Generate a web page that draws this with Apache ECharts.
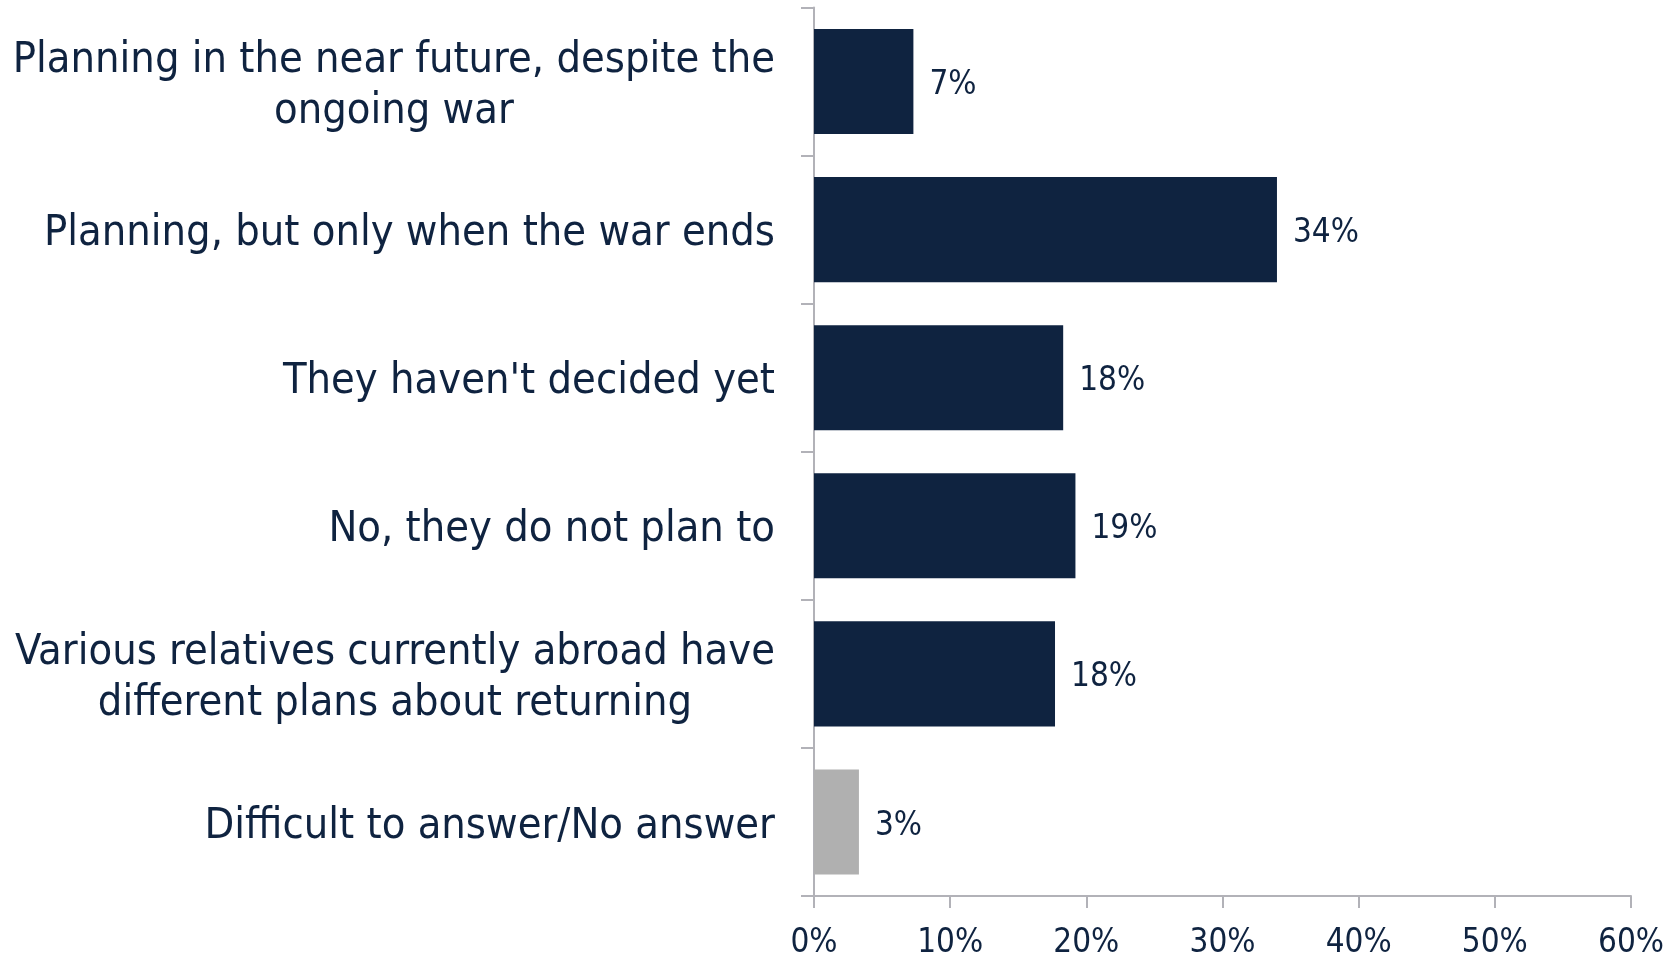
<!DOCTYPE html>
<html>
<head>
<meta charset="utf-8">
<script src="https://cdn.jsdelivr.net/npm/echarts@6/dist/echarts.min.js"></script>
<style>
  html, body { margin: 0; padding: 0; background: #fff; }
  #chart { width: 1680px; height: 961px; }
</style>
</head>
<body>
<div id="chart"></div>
<script>
const categories = [
  'Planning in the near future, despite the\nongoing war',
  'Planning, but only when the war ends',
  "They haven't decided yet",
  'No, they do not plan to',
  'Various relatives currently abroad have\ndifferent plans about returning',
  'Difficult to answer/No answer'
];
const values = [7.3, 34.0, 18.3, 19.2, 17.7, 3.3];
const labels = ['7%', '34%', '18%', '19%', '18%', '3%'];
const barColors = ['#0f2340', '#0f2340', '#0f2340', '#0f2340', '#0f2340', '#b0b0b0'];
const xTicks = [0, 10, 20, 30, 40, 50, 60];

const textColor = '#0f2340';
const axisColor = '#b2b2b8';
const font = '"DejaVu Sans Condensed", "DejaVu Sans", sans-serif';

const chart = echarts.init(document.getElementById('chart'));

chart.setOption({
  animation: false,
  grid: { left: 814, right: 49, top: 7.5, bottom: 65 },
  xAxis: {
    type: 'value',
    min: xTicks[0],
    max: xTicks[xTicks.length - 1],
    interval: 10,
    splitLine: { show: false },
    axisLine: { show: true, lineStyle: { color: axisColor, width: 2 } },
    axisTick: { show: true, length: 12, lineStyle: { color: axisColor, width: 2 } },
    axisLabel: {
      formatter: '{value}%',
      color: textColor,
      fontFamily: font,
      fontSize: 33,
      margin: 31
    }
  },
  yAxis: {
    type: 'category',
    inverse: true,
    data: categories,
    axisLine: { show: true, lineStyle: { color: axisColor, width: 2 } },
    axisTick: { show: true, length: 13, lineStyle: { color: axisColor, width: 2 } },
    axisLabel: {
      margin: 39,
      padding: [9, 0, 0, 0],
      formatter: function (v) {
        return v.split('\n').map(function (s) { return '{c|' + s + '}'; }).join('\n');
      },
      rich: {
        c: {
          color: textColor,
          fontFamily: font,
          fontSize: 43,
          lineHeight: 51,
          align: 'center'
        }
      }
    }
  },
  series: [{
    type: 'bar',
    barCategoryGap: '29%',
    data: values.map(function (v, i) {
      return { value: v, itemStyle: { color: barColors[i] } };
    }),
    label: {
      show: true,
      position: 'right',
      distance: 16,
      offset: [0, 4],
      color: textColor,
      fontFamily: font,
      fontSize: 33,
      formatter: function (p) { return labels[p.dataIndex]; }
    }
  }]
});
</script>
</body>
</html>
